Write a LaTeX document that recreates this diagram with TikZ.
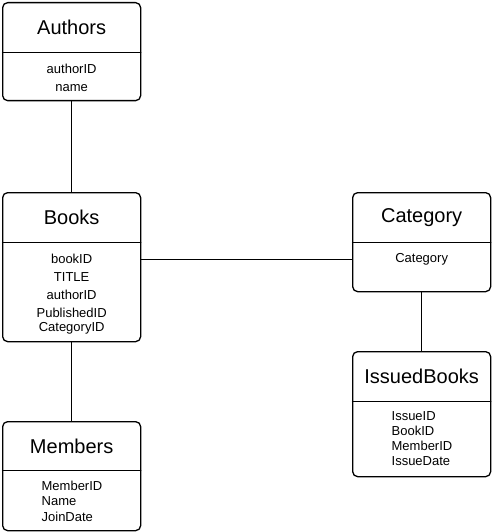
\documentclass[tikz,border=0pt]{standalone}
\usepackage{fontspec}
\setmainfont{Liberation Sans}
\usetikzlibrary{positioning}

\tikzset{
  tbl/.style={draw,line width=1.3pt,rounded corners=5pt,minimum width=138pt,inner sep=0pt},
  head/.style={minimum width=138pt,minimum height=50pt,inner sep=0pt,font=\fontsize{20}{22}\selectfont},
  fields/.style={inner sep=0pt,align=center,font=\fontsize{13}{18}\selectfont},
  lfields/.style={inner sep=0pt,align=left,font=\fontsize{13}{15.3}\selectfont},
  sep/.style={line width=1pt},
  link/.style={line width=0.8pt}
}

\begin{document}
\begin{tikzpicture}[x=1pt,y=-1pt,line cap=round,line join=round]
        \useasboundingbox (0,0) rectangle (492,532);

        % tables
        \node[tbl,minimum height=98pt,anchor=north west] (authors) at (2,2) {};
        \node[tbl,minimum height=149pt,anchor=north west] (books) at (2,192) {};
        \node[tbl,minimum height=109pt,anchor=north west] (members) at (2,421) {};
        \node[tbl,minimum height=99pt,anchor=north west] (category) at (352,192) {};
        \node[tbl,minimum height=125pt,anchor=north west] (issued) at (352,351) {};

        % headers
        \node[head,anchor=north] (authorsH) at (authors.north) {Authors};
        \node[head,anchor=north] (booksH) at (books.north) {Books};
        \node[head,anchor=north] (membersH) at (members.north) {Members};
        \node[head,anchor=north] (categoryH) at (category.north) {Category};
        \node[head,anchor=north] (issuedH) at (issued.north) {IssuedBooks};

        \draw[sep] (authorsH.south west) -- (authorsH.south east);
        \draw[sep] (booksH.south west) -- (booksH.south east);
        \draw[sep] ([yshift=1pt]membersH.south west) -- ([yshift=1pt]membersH.south east);
        \draw[sep] (categoryH.south west) -- (categoryH.south east);
        \draw[sep] (issuedH.south west) -- (issuedH.south east);

        % fields
        \node[fields,below=11pt of authorsH] (authorsF) {authorID\\name};
        \node[fields,below=11pt of booksH] (booksF) {bookID\\TITLE\\authorID\\PublishedID\\[-4pt]CategoryID};
        \node[fields,below=11pt of categoryH] (categoryF) {Category};
        \node[lfields,below right=9.5pt and 39pt of issuedH.south west] (issuedF) {IssueID\\BookID\\MemberID\\IssueDate};
        \node[lfields,below right=9.5pt and 39pt of membersH.south west] (membersF) {MemberID\\Name\\JoinDate};

        % links
        \draw[link] (authors) -- (books);
        \draw[link] (books) -- (members);
        \draw[link] (books.east |- categoryF.center) -- (category.west |- categoryF.center);
        \draw[link] (category) -- (issued);
\end{tikzpicture}
\end{document}
